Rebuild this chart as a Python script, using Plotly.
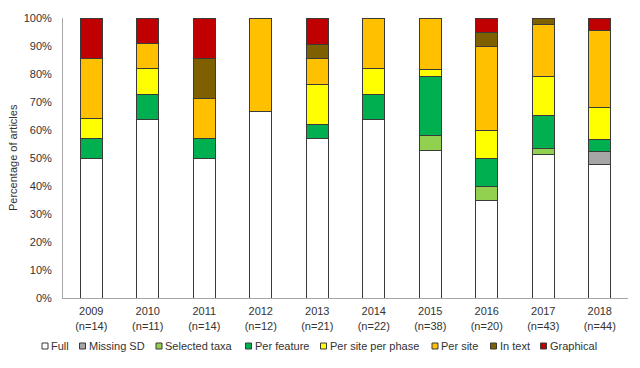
import plotly.graph_objects as go

years = ["2009", "2010", "2011", "2012", "2013", "2014", "2015", "2016", "2017", "2018"]
n_articles = [14, 11, 14, 12, 21, 22, 38, 20, 43, 44]
tick_labels = [f"{y}<br>(n={n})" for y, n in zip(years, n_articles)]

series_names = ["Full", "Missing SD", "Selected taxa", "Per feature",
                "Per site per phase", "Per site", "In text", "Graphical"]
series_colors = ["#FFFFFF", "#A6A6A6", "#92D050", "#00B050",
                 "#FFFF00", "#FFC000", "#7F6000", "#C00000"]

# percentages of articles per year
full = [50.0, 63.6, 50.0, 66.7, 57.1, 63.6, 52.6, 35.0, 51.2, 47.7]
missing_sd = [0, 0, 0, 0, 0, 0, 0, 0, 0, 4.5]
selected_taxa = [0, 0, 0, 0, 0, 0, 5.3, 5.0, 2.3, 0]
per_feature = [7.1, 9.1, 7.1, 0, 4.8, 9.1, 21.1, 10.0, 11.6, 4.5]
per_site_per_phase = [7.1, 9.1, 0, 0, 14.3, 9.1, 2.6, 10.0, 14.0, 11.4]
per_site = [21.4, 9.1, 14.3, 33.3, 9.5, 18.2, 18.4, 30.0, 18.6, 27.3]
in_text = [0, 0, 14.3, 0, 4.8, 0, 0, 5.0, 2.3, 0]
graphical = [14.3, 9.1, 14.3, 0, 9.5, 0, 0, 5.0, 0, 4.5]

series_values = [full, missing_sd, selected_taxa, per_feature,
                 per_site_per_phase, per_site, in_text, graphical]

y_ticks = list(range(0, 101, 10))
y_tick_text = [f"{v}%" for v in y_ticks]

FONT = "Liberation Sans, Arial, sans-serif"
FS = 11
TEXT_COLOR = "#333333"
OUTLINE = "#3a3a3a"

fig = go.Figure()
for name, color, vals in zip(series_names, series_colors, series_values):
    fig.add_trace(go.Bar(
        x=years, y=vals, name=name, width=0.39,
        marker=dict(color=color, line=dict(color=OUTLINE, width=1)),
        showlegend=False,
    ))

W, H = 640, 368
ML, MR, MT, MB = 63, 12, 18, 70
PW, PH = W - ML - MR, H - MT - MB

def px_x(px):
    return (px - ML) / PW

def px_y(py):
    return (H - MB - py) / PH

# custom compact legend (single row, like the original)
legend_square_left = [42, 79.5, 156, 245.5, 320.5, 432, 490.5, 540.5]
legend_y = 346
shapes = []
annotations = []
for name, color, left in zip(series_names, series_colors, legend_square_left):
    shapes.append(dict(
        type="rect", xref="paper", yref="paper",
        xsizemode="pixel", ysizemode="pixel",
        xanchor=px_x(left), yanchor=px_y(legend_y),
        x0=0, x1=6, y0=-3, y1=3,
        fillcolor=color, line=dict(color=OUTLINE, width=1),
    ))
    annotations.append(dict(
        xref="paper", yref="paper", x=px_x(left + 7), y=px_y(legend_y),
        xanchor="left", yanchor="middle", showarrow=False,
        text=name, font=dict(family=FONT, size=FS, color=TEXT_COLOR),
    ))

annotations.append(dict(
    xref="paper", yref="paper", x=px_x(13), y=px_y(158),
    xanchor="center", yanchor="middle", showarrow=False, textangle=-90,
    text="Percentage of articles", font=dict(family=FONT, size=FS, color=TEXT_COLOR),
))

fig.update_layout(
    width=W, height=H,
    margin=dict(l=ML, r=MR, t=MT, b=MB),
    barmode="stack",
    plot_bgcolor="white", paper_bgcolor="white",
    font=dict(family=FONT, size=FS, color=TEXT_COLOR),
    shapes=shapes, annotations=annotations,
    xaxis=dict(
        type="category", range=[-0.5, 9.5],
        tickvals=years, ticktext=tick_labels,
        showline=True, linecolor="#A6A6A6", linewidth=1,
        ticks="", showgrid=False, zeroline=False,
        ticklabelstandoff=3,
        tickfont=dict(family=FONT, size=FS, color=TEXT_COLOR),
    ),
    yaxis=dict(
        range=[0, 100], tickvals=y_ticks, ticktext=y_tick_text,
        showline=True, linecolor="#A6A6A6", linewidth=1,
        ticks="", showgrid=False, zeroline=False,
        ticklabelstandoff=8,
        tickfont=dict(family=FONT, size=FS, color=TEXT_COLOR),
    ),
)

fig.write_html("out.html", config={"displayModeBar": False},
               post_script="document.body.style.margin='0';")
